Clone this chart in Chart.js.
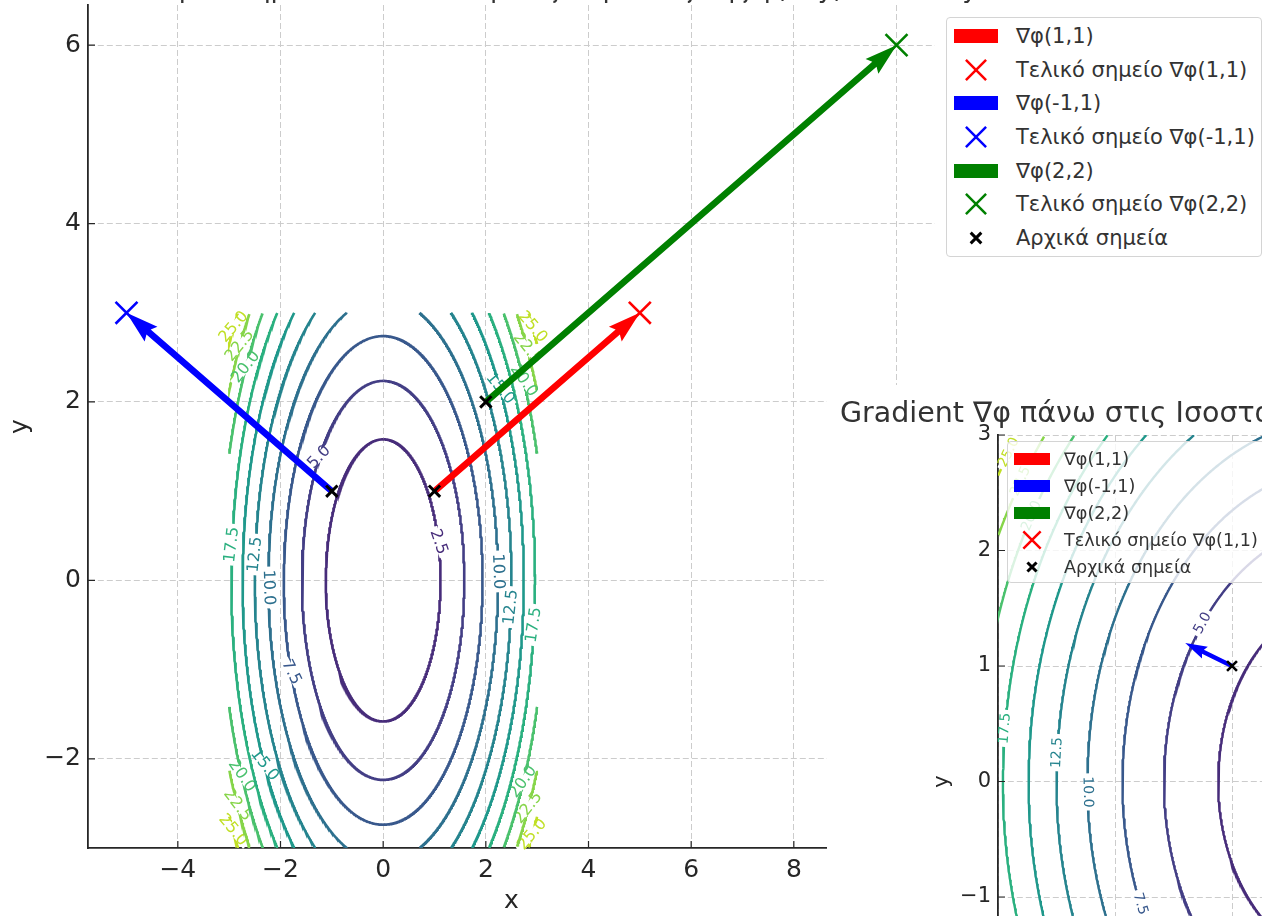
<!DOCTYPE html>
<html>
<head>
<meta charset="utf-8">
<script src="https://cdn.jsdelivr.net/npm/chart.js@4.4.0/dist/chart.umd.min.js"></script>
<style>
html, body { margin: 0; padding: 0; width: 1262px; height: 916px; overflow: hidden; background: #fff; font-family: 'DejaVu Sans', sans-serif; }
#mainCanvas { position: absolute; left: 0; top: 0; }
#insetCanvas { position: absolute; left: 827px; top: 385px; background: #fff; }
.legend { position: absolute; box-sizing: border-box; background: #fff; border: 1px solid #d4d4d4; border-radius: 4px; color: #333; }
.legend ul { list-style: none; margin: 0; padding: 0; }
.legend li { display: flex; align-items: center; white-space: nowrap; }
.legend .sw { display: inline-flex; align-items: center; justify-content: center; flex: none; }
#legend-main { left: 946px; top: 17px; width: 316px; height: 240px; font-size: 21px; padding-top: 1px; }
#legend-main li { height: 33.7px; padding-left: 7px; }
#legend-main .sw { width: 44px; margin-right: 18px; }
#legend-inset { left: 1007px; top: 441px; width: 300px; height: 142px; font-size: 17.6px; padding-top: 3px; background: rgba(255,255,255,0.8); }
#legend-inset li { height: 27.2px; padding-left: 6px; }
#legend-inset .sw { width: 36px; margin-right: 14px; }
</style>
</head>
<body>
<canvas id="mainCanvas" width="1262" height="916"></canvas>
<div id="legend-main" class="legend"></div>
<canvas id="insetCanvas" width="900" height="800"></canvas>
<div id="legend-inset" class="legend"></div>
<script>
// φ(x,y) = 2x² + y², contour levels and their viridis colours
let levels = [2.5, 5, 7.5, 10, 12.5, 15, 17.5, 20, 22.5, 25];
let levelColors = ['#472c7a', '#433e85', '#38588c', '#2d708e', '#25848e', '#1f988b', '#2ab07f', '#4ac16d', '#86d549', '#c0df25'];
let phiA = 2, phiB = 1;
let gridMin = -3, gridMax = 3;

// gradient arrows
let arrowNames = ['∇φ(1,1)', '∇φ(-1,1)', '∇φ(2,2)'];
let endNames = ['Τελικό σημείο ∇φ(1,1)', 'Τελικό σημείο ∇φ(-1,1)', 'Τελικό σημείο ∇φ(2,2)'];
let startName = 'Αρχικά σημεία';
let arrowColors = ['#ff0000', '#0000ff', '#008000'];
let startX = [1, -1, 2];
let startY = [1, 1, 2];
let endX = [5, -5, 10];
let endY = [3, 3, 6];
let insetEndX = [1.4, -1.4, 2.8];
let insetEndY = [1.2, 1.2, 2.4];

// axes
let xRangeMain = [-5.75, 10.75];
let yRangeMain = [-3, 6.45];
let xTicksMain = [-4, -2, 0, 2, 4, 6, 8, 10];
let yTicksMain = [-2, 0, 2, 4, 6];
let rangeInset = [-3, 3];
let ticksInset = [-3, -2, -1, 0, 1, 2, 3];

// contour label spots: [level, y, side]
let mainLabelSpots = [
    [25, 2.84, -1], [22.5, 2.63, -1], [20, 2.39, -1], [17.5, 0.4, -1], [12.5, 0.29, -1],
    [10, -0.08, -1], [7.5, -1.03, -1], [5, 1.38, -1], [15, -2.07, -1], [20, -2.19, -1],
    [22.5, -2.52, -1], [25, -2.8, -1],
    [2.5, 0.43, 1], [10, 0.1, 1], [12.5, -0.3, 1], [17.5, -0.5, 1], [15, 2.15, 1],
    [20, 2.24, 1], [22.5, 2.6, 1], [25, 2.84, 1], [20, -2.26, 1], [22.5, -2.55, 1], [25, -2.85, 1]
];
let insetLabelSpots = [
    [25, 2.85, -1], [22.5, 2.6, -1], [20, 2.3, -1], [17.5, 0.46, -1], [12.5, 0.25, -1],
    [10, -0.09, -1], [7.5, -1.06, -1], [5, 1.37, -1], [2.5, 0.4, 1]
];

const FONT = "'DejaVu Sans', sans-serif";
const INK = '#262626';

let fmt = function (v) {
    return v < 0 ? '\u2212' + Math.abs(v) : String(v);
};

let contourData = function (level) {
    let a = Math.sqrt(level / phiA), b = Math.sqrt(level / phiB);
    let pts = [];
    let n = 1440, gap = false;
    for (let i = 0; i <= n; i++) {
        let t = Math.PI / 2 + (i / n) * 2 * Math.PI;
        let x = a * Math.cos(t), y = b * Math.sin(t);
        if (x >= gridMin && x <= gridMax && y >= gridMin && y <= gridMax) {
            pts.push({x: x, y: y});
            gap = false;
        } else if (!gap) {
            pts.push({x: x, y: null});
            gap = true;
        }
    }
    return pts;
};

let contourSets = function (width) {
    return levels.map(function (L, i) {
        return {
            kind: 'contour', level: L, data: contourData(L), showLine: true,
            borderColor: levelColors[i], borderWidth: width, pointRadius: 0, order: 10
        };
    });
};

let arrowSets = function (ex, ey) {
    return arrowNames.map(function (name, i) {
        return {
            kind: 'arrow', label: name, color: arrowColors[i],
            data: [{x: startX[i], y: startY[i]}, {x: ex[i], y: ey[i]}],
            pointRadius: 0, showLine: false, order: 5
        };
    });
};

let markerSet = function (xs, ys, color, r, w) {
    return {
        kind: 'marker', data: xs.map(function (x, i) { return {x: x, y: ys[i]}; }),
        pointStyle: 'crossRot', pointRadius: r, pointBorderWidth: w, borderWidth: w,
        borderColor: color, pointBorderColor: color, showLine: false, order: 1
    };
};

let drawArrow = function (ctx, p0, p1, color, w) {
    let dx = p1.x - p0.x, dy = p1.y - p0.y;
    let len = Math.hypot(dx, dy);
    let hl = 5 * w, hal = 4.5 * w, hw = 1.5 * w, sw = w / 2;
    ctx.save();
    ctx.translate(p0.x, p0.y);
    ctx.rotate(Math.atan2(dy, dx));
    ctx.beginPath();
    ctx.moveTo(0, -sw);
    ctx.lineTo(len - hal, -sw);
    ctx.lineTo(len - hl, -hw);
    ctx.lineTo(len, 0);
    ctx.lineTo(len - hl, hw);
    ctx.lineTo(len - hal, sw);
    ctx.lineTo(0, sw);
    ctx.closePath();
    ctx.fillStyle = color;
    ctx.fill();
    ctx.restore();
};

let drawLabels = function (chart, level, color, opts) {
    let ctx = chart.ctx, sx = chart.scales.x, sy = chart.scales.y;
    let kx = Math.abs(sx.getPixelForValue(1) - sx.getPixelForValue(0));
    let ky = Math.abs(sy.getPixelForValue(1) - sy.getPixelForValue(0));
    opts.spots.forEach(function (s) {
        if (s[0] !== level) return;
        let y = s[1];
        let x = s[2] * Math.sqrt((level - phiB * y * y) / phiA);
        let px = sx.getPixelForValue(x), py = sy.getPixelForValue(y);
        let gx = 2 * phiA * x * kx, gy = -2 * phiB * y * ky;
        let ang = Math.atan2(gx, -gy);
        if (ang > Math.PI / 2) ang -= Math.PI;
        if (ang <= -Math.PI / 2) ang += Math.PI;
        let text = level.toFixed(1);
        ctx.save();
        ctx.translate(px, py);
        ctx.rotate(ang);
        ctx.font = opts.size + 'px ' + FONT;
        let tw = ctx.measureText(text).width;
        ctx.fillStyle = '#ffffff';
        ctx.fillRect(-tw / 2 - 3, -4, tw + 6, 8);
        ctx.fillStyle = color;
        ctx.textAlign = 'center';
        ctx.textBaseline = 'middle';
        ctx.fillText(text, 0, 0);
        ctx.restore();
    });
};

let overlayPlugin = {
    id: 'overlay',
    afterDatasetDraw: function (chart, args, opts) {
        let ds = chart.data.datasets[args.index];
        if (ds.kind === 'arrow') {
            let pts = args.meta.data;
            drawArrow(chart.ctx, pts[0], pts[1], ds.color, opts.arrowWidth);
        }
        if (ds.kind === 'contour') {
            drawLabels(chart, ds.level, ds.borderColor, opts);
        }
    },
    afterDraw: function (chart, args, opts) {
        let ctx = chart.ctx, a = chart.chartArea;
        let sx = chart.scales.x, sy = chart.scales.y;
        ctx.save();
        ctx.strokeStyle = INK;
        ctx.lineWidth = 1.2;
        ctx.beginPath();
        sx.ticks.forEach(function (t) {
            let p = sx.getPixelForValue(t.value);
            if (p < a.left || p > a.right) return;
            ctx.moveTo(p, a.bottom);
            ctx.lineTo(p, a.bottom - 7);
        });
        sy.ticks.forEach(function (t) {
            let p = sy.getPixelForValue(t.value);
            if (p < a.top || p > a.bottom) return;
            ctx.moveTo(a.left, p);
            ctx.lineTo(a.left + 7, p);
        });
        ctx.stroke();
        ctx.fillStyle = '#333';
        ctx.font = opts.titleSize + 'px ' + FONT;
        ctx.textBaseline = 'alphabetic';
        if (opts.titleAlign === 'center') {
            ctx.textAlign = 'center';
            ctx.fillText(opts.title, (a.left + a.right) / 2, opts.titleY);
        } else {
            ctx.textAlign = 'left';
            ctx.fillText(opts.title, opts.titleX, opts.titleY);
        }
        ctx.restore();
    }
};

let axisOpts = function (range, ticks, size, title, titlePad, fit) {
    return {
        type: 'linear', min: range[0], max: range[1],
        afterBuildTicks: function (s) { s.ticks = ticks.map(function (v) { return {value: v}; }); },
        afterFit: function (s) {
            fit(s);
            s.paddingTop = 0; s.paddingBottom = 0; s.paddingLeft = 0; s.paddingRight = 0;
        },
        grid: { color: '#cccccc', lineWidth: 1, drawTicks: false },
        border: { display: true, color: INK, width: 1.8, dash: [6, 3] },
        ticks: { font: {family: FONT, size: size}, color: INK, padding: 7, autoSkip: false, maxRotation: 0, callback: fmt },
        title: { display: true, text: title, font: {family: FONT, size: size}, color: INK, padding: {top: titlePad, bottom: 0} }
    };
};

let mainChartDraw = function () {
    let ctx = document.getElementById('mainCanvas').getContext('2d');
    let datasets = contourSets(2.6)
        .concat(arrowSets(endX, endY))
        .concat(arrowNames.map(function (n, i) { return markerSet([endX[i]], [endY[i]], arrowColors[i], 15.5, 2.6); }))
        .concat([markerSet(startX, startY, '#000000', 8, 3)]);
    window.mainChart = new Chart(ctx, {
        type: 'scatter',
        data: { datasets: datasets },
        options: {
            responsive: false, animation: false, events: [],
            layout: { autoPadding: false, padding: {left: 0, top: 5, right: 327, bottom: 0} },
            plugins: {
                legend: { display: false }, tooltip: { enabled: false },
                overlay: {
                    arrowWidth: 6.5, spots: mainLabelSpots, size: 16,
                    title: 'Gradient ∇φ σε σημεία και Ισοσταθμικές Καμπύλες της φ(x, y) = 2x² + y²',
                    titleSize: 26, titleAlign: 'center', titleY: -3
                }
            },
            scales: {
                x: axisOpts(xRangeMain, xTicksMain, 25, 'x', 1, function (s) { s.height = 68; }),
                y: axisOpts(yRangeMain, yTicksMain, 25, 'y', 5, function (s) { s.width = 88; })
            }
        },
        plugins: [overlayPlugin]
    });
};

let insetChartDraw = function () {
    let ctx = document.getElementById('insetCanvas').getContext('2d');
    let datasets = contourSets(2.4)
        .concat(arrowSets(insetEndX, insetEndY))
        .concat([markerSet([insetEndX[0]], [insetEndY[0]], arrowColors[0], 12, 2.4)])
        .concat([markerSet(startX, startY, '#000000', 7, 2.6)]);
    window.insetChart = new Chart(ctx, {
        type: 'scatter',
        data: { datasets: datasets },
        options: {
            responsive: false, animation: false, events: [],
            layout: { autoPadding: false, padding: {left: 0, top: 50, right: 27, bottom: 0} },
            plugins: {
                legend: { display: false }, tooltip: { enabled: false },
                overlay: {
                    arrowWidth: 4.4, spots: insetLabelSpots, size: 14,
                    title: 'Gradient ∇φ πάνω στις Ισοσταθμικές Καμπύλες της φ(x, y) = 2x² + y²',
                    titleSize: 28.5, titleAlign: 'left', titleX: 13, titleY: 37
                }
            },
            scales: {
                x: axisOpts(rangeInset, ticksInset, 21, 'x', 1, function (s) { s.height = 57; }),
                y: axisOpts(rangeInset, ticksInset, 21, 'y', 103, function (s) { s.width = 171; })
            }
        },
        plugins: [overlayPlugin]
    });
};

let swatchHtml = function (item, w, h) {
    if (item.type === 'patch') {
        return "<span class='sw'><span style='display:inline-block;width:" + w + "px;height:" + h + "px;background:" + item.color + "'></span></span>";
    }
    let arm = item.type === 'cross' ? h * 0.72 : h * 0.38;
    let lw = item.type === 'cross' ? 2.5 : 3;
    let c = w / 2, m = 14;
    return "<span class='sw'><svg width='" + w + "' height='28' viewBox='0 0 " + w + " 28'>" +
        "<path d='M" + (c - arm) + " " + (m - arm) + " L" + (c + arm) + " " + (m + arm) +
        " M" + (c + arm) + " " + (m - arm) + " L" + (c - arm) + " " + (m + arm) +
        "' stroke='" + item.color + "' stroke-width='" + lw + "' fill='none'/></svg></span>";
};

let buildLegend = function (id, items, w, h) {
    let ul = document.createElement('ul');
    items.forEach(function (item) {
        ul.innerHTML += '<li>' + swatchHtml(item, w, h) + '<span>' + item.label + '</span></li>';
    });
    document.getElementById(id).appendChild(ul);
};

window.onload = function () {
    mainChartDraw();
    insetChartDraw();

    let mainItems = [];
    arrowNames.forEach(function (n, i) {
        mainItems.push({type: 'patch', color: arrowColors[i], label: n});
        mainItems.push({type: 'cross', color: arrowColors[i], label: endNames[i]});
    });
    mainItems.push({type: 'x', color: '#000', label: startName});
    buildLegend('legend-main', mainItems, 44, 14);

    let insetItems = arrowNames.map(function (n, i) { return {type: 'patch', color: arrowColors[i], label: n}; });
    insetItems.push({type: 'cross', color: arrowColors[0], label: endNames[0]});
    insetItems.push({type: 'x', color: '#000', label: startName});
    buildLegend('legend-inset', insetItems, 36, 12);
};
</script>
</body>
</html>
